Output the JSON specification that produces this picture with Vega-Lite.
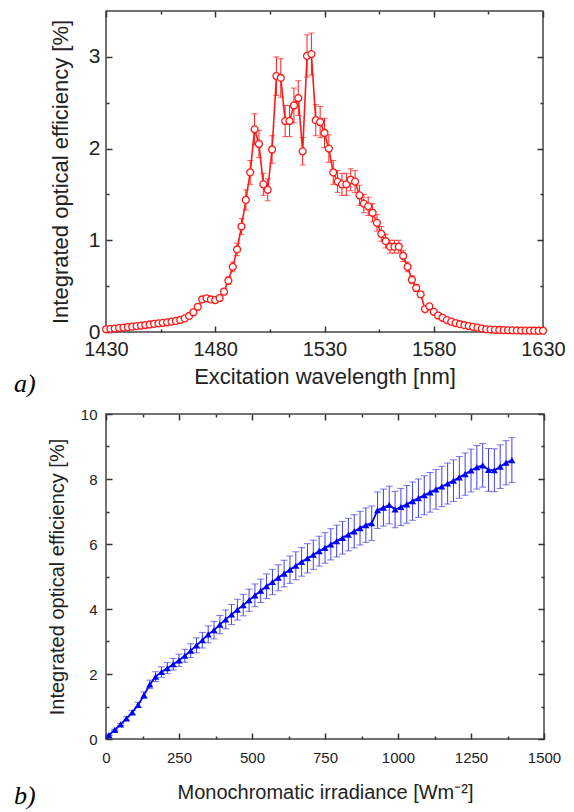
{
  "$schema": "https://vega.github.io/schema/vega-lite/v6.json",
  "padding": {"left": 13, "top": 9, "right": 0, "bottom": 0},
  "columns": 1,
  "spacing": 8,
  "config": {
    "font": "Liberation Sans",
    "view": {"stroke": "#444", "strokeWidth": 1.5},
    "axis": {
      "domain": false, "grid": false, "ticks": true, "tickColor": "#333", "tickWidth": 1.5, "tickOpacity": 1, "zindex": 1,
      "labelColor": "#222", "titleColor": "#222", "labelFont": "Liberation Sans",
      "titleFont": "Liberation Sans", "titleFontWeight": "normal",
      "labelFlush": false, "labelOverlap": false
    }
  },
  "datasets": {
    "spectrum": [
      {"wl":1430,"eff":0.030,"err":0.003},{"wl":1432,"eff":0.034,"err":0.003},{"wl":1434,"eff":0.038,"err":0.003},{"wl":1436,"eff":0.043,"err":0.003},{"wl":1438,"eff":0.048,"err":0.004},{"wl":1440,"eff":0.053,"err":0.004},{"wl":1442,"eff":0.058,"err":0.004},{"wl":1444,"eff":0.064,"err":0.005},{"wl":1446,"eff":0.070,"err":0.005},{"wl":1448,"eff":0.076,"err":0.006},{"wl":1450,"eff":0.082,"err":0.006},{"wl":1452,"eff":0.088,"err":0.007},{"wl":1454,"eff":0.094,"err":0.007},{"wl":1456,"eff":0.100,"err":0.008},{"wl":1458,"eff":0.106,"err":0.008},{"wl":1460,"eff":0.113,"err":0.009},{"wl":1462,"eff":0.121,"err":0.009},{"wl":1464,"eff":0.131,"err":0.010},{"wl":1466,"eff":0.148,"err":0.011},{"wl":1468,"eff":0.175,"err":0.013},{"wl":1470,"eff":0.215,"err":0.016},{"wl":1472,"eff":0.275,"err":0.021},{"wl":1474,"eff":0.355,"err":0.027},{"wl":1476,"eff":0.368,"err":0.028},{"wl":1478,"eff":0.355,"err":0.027},{"wl":1480,"eff":0.348,"err":0.026},{"wl":1482,"eff":0.370,"err":0.028},{"wl":1484,"eff":0.44,"err":0.033},{"wl":1486,"eff":0.56,"err":0.042},{"wl":1488,"eff":0.71,"err":0.053},{"wl":1490,"eff":0.90,"err":0.068},{"wl":1492,"eff":1.15,"err":0.086},{"wl":1494,"eff":1.44,"err":0.11},{"wl":1496,"eff":1.74,"err":0.13},{"wl":1498,"eff":2.21,"err":0.17},{"wl":1500,"eff":2.05,"err":0.15},{"wl":1502,"eff":1.61,"err":0.12},{"wl":1504,"eff":1.55,"err":0.12},{"wl":1506,"eff":1.99,"err":0.15},{"wl":1508,"eff":2.79,"err":0.21},{"wl":1510,"eff":2.77,"err":0.21},{"wl":1512,"eff":2.30,"err":0.17},{"wl":1514,"eff":2.30,"err":0.17},{"wl":1516,"eff":2.47,"err":0.19},{"wl":1518,"eff":2.55,"err":0.19},{"wl":1520,"eff":1.97,"err":0.15},{"wl":1522,"eff":3.01,"err":0.23},{"wl":1524,"eff":3.03,"err":0.23},{"wl":1526,"eff":2.31,"err":0.17},{"wl":1528,"eff":2.29,"err":0.17},{"wl":1530,"eff":2.17,"err":0.16},{"wl":1532,"eff":2.00,"err":0.15},{"wl":1534,"eff":1.74,"err":0.13},{"wl":1536,"eff":1.64,"err":0.12},{"wl":1538,"eff":1.61,"err":0.12},{"wl":1540,"eff":1.61,"err":0.12},{"wl":1542,"eff":1.66,"err":0.12},{"wl":1544,"eff":1.64,"err":0.12},{"wl":1546,"eff":1.49,"err":0.11},{"wl":1548,"eff":1.40,"err":0.10},{"wl":1550,"eff":1.37,"err":0.10},{"wl":1552,"eff":1.30,"err":0.10},{"wl":1554,"eff":1.19,"err":0.09},{"wl":1556,"eff":1.07,"err":0.08},{"wl":1558,"eff":0.99,"err":0.074},{"wl":1560,"eff":0.93,"err":0.07},{"wl":1562,"eff":0.93,"err":0.07},{"wl":1564,"eff":0.93,"err":0.07},{"wl":1566,"eff":0.83,"err":0.062},{"wl":1568,"eff":0.71,"err":0.053},{"wl":1570,"eff":0.57,"err":0.043},{"wl":1572,"eff":0.48,"err":0.036},{"wl":1574,"eff":0.41,"err":0.031},{"wl":1576,"eff":0.25,"err":0.019},{"wl":1578,"eff":0.28,"err":0.021},{"wl":1580,"eff":0.22,"err":0.016},{"wl":1582,"eff":0.18,"err":0.014},{"wl":1584,"eff":0.155,"err":0.012},{"wl":1586,"eff":0.13,"err":0.010},{"wl":1588,"eff":0.113,"err":0.008},{"wl":1590,"eff":0.098,"err":0.007},{"wl":1592,"eff":0.085,"err":0.006},{"wl":1594,"eff":0.074,"err":0.006},{"wl":1596,"eff":0.065,"err":0.005},{"wl":1598,"eff":0.056,"err":0.004},{"wl":1600,"eff":0.047,"err":0.004},{"wl":1602,"eff":0.037,"err":0.003},{"wl":1604,"eff":0.030,"err":0.002},{"wl":1606,"eff":0.027,"err":0.002},{"wl":1608,"eff":0.024,"err":0.002},{"wl":1610,"eff":0.022,"err":0.002},{"wl":1612,"eff":0.020,"err":0.002},{"wl":1614,"eff":0.019,"err":0.001},{"wl":1616,"eff":0.018,"err":0.001},{"wl":1618,"eff":0.017,"err":0.001},{"wl":1620,"eff":0.016,"err":0.001},{"wl":1622,"eff":0.015,"err":0.001},{"wl":1624,"eff":0.015,"err":0.001},{"wl":1626,"eff":0.014,"err":0.001},{"wl":1628,"eff":0.014,"err":0.001},{"wl":1630,"eff":0.014,"err":0.001}
    ],
    "irradiance": [
      {"irr":10,"eff":0.12,"err":0.01},{"irr":30,"eff":0.28,"err":0.02},{"irr":50,"eff":0.45,"err":0.03},{"irr":70,"eff":0.63,"err":0.05},{"irr":90,"eff":0.82,"err":0.06},{"irr":110,"eff":1.05,"err":0.08},{"irr":130,"eff":1.35,"err":0.10},{"irr":150,"eff":1.68,"err":0.13},{"irr":170,"eff":1.92,"err":0.15},{"irr":190,"eff":2.06,"err":0.16},{"irr":210,"eff":2.18,"err":0.17},{"irr":230,"eff":2.30,"err":0.18},{"irr":250,"eff":2.42,"err":0.19},{"irr":270,"eff":2.56,"err":0.20},{"irr":290,"eff":2.72,"err":0.21},{"irr":310,"eff":2.88,"err":0.23},{"irr":330,"eff":3.04,"err":0.24},{"irr":350,"eff":3.22,"err":0.26},{"irr":370,"eff":3.35,"err":0.27},{"irr":390,"eff":3.52,"err":0.28},{"irr":410,"eff":3.68,"err":0.29},{"irr":430,"eff":3.83,"err":0.31},{"irr":450,"eff":3.98,"err":0.32},{"irr":470,"eff":4.12,"err":0.33},{"irr":490,"eff":4.27,"err":0.34},{"irr":510,"eff":4.42,"err":0.35},{"irr":530,"eff":4.56,"err":0.36},{"irr":550,"eff":4.70,"err":0.38},{"irr":570,"eff":4.83,"err":0.39},{"irr":590,"eff":4.96,"err":0.40},{"irr":610,"eff":5.09,"err":0.41},{"irr":630,"eff":5.21,"err":0.42},{"irr":650,"eff":5.33,"err":0.43},{"irr":670,"eff":5.45,"err":0.44},{"irr":690,"eff":5.56,"err":0.45},{"irr":710,"eff":5.67,"err":0.45},{"irr":730,"eff":5.78,"err":0.46},{"irr":750,"eff":5.88,"err":0.47},{"irr":770,"eff":5.99,"err":0.48},{"irr":790,"eff":6.09,"err":0.49},{"irr":810,"eff":6.19,"err":0.50},{"irr":830,"eff":6.29,"err":0.50},{"irr":850,"eff":6.39,"err":0.51},{"irr":870,"eff":6.49,"err":0.52},{"irr":890,"eff":6.58,"err":0.53},{"irr":910,"eff":6.64,"err":0.53},{"irr":930,"eff":7.04,"err":0.56},{"irr":950,"eff":7.12,"err":0.57},{"irr":970,"eff":7.20,"err":0.58},{"irr":990,"eff":7.06,"err":0.56},{"irr":1010,"eff":7.14,"err":0.57},{"irr":1030,"eff":7.22,"err":0.58},{"irr":1050,"eff":7.32,"err":0.59},{"irr":1070,"eff":7.41,"err":0.59},{"irr":1090,"eff":7.50,"err":0.60},{"irr":1110,"eff":7.59,"err":0.61},{"irr":1130,"eff":7.68,"err":0.61},{"irr":1150,"eff":7.77,"err":0.62},{"irr":1170,"eff":7.86,"err":0.63},{"irr":1190,"eff":7.95,"err":0.64},{"irr":1210,"eff":8.05,"err":0.64},{"irr":1230,"eff":8.15,"err":0.65},{"irr":1250,"eff":8.26,"err":0.66},{"irr":1270,"eff":8.36,"err":0.67},{"irr":1290,"eff":8.42,"err":0.67},{"irr":1310,"eff":8.28,"err":0.66},{"irr":1330,"eff":8.27,"err":0.66},{"irr":1350,"eff":8.38,"err":0.67},{"irr":1370,"eff":8.50,"err":0.68},{"irr":1390,"eff":8.58,"err":0.69}
    ]
  },
  "concat": [
    {
      "width": 437,
      "height": 321,
      "data": {"name": "spectrum"},
      "title": {"text": "a)", "orient": "bottom", "anchor": "start", "frame": "group", "baseline": "alphabetic", "offset": 4, "dx": -92, "font": "Liberation Serif", "fontSize": 26, "fontStyle": "italic", "fontWeight": "normal", "color": "#000"},
      "resolve": {"axis": {"x": "independent", "y": "independent"}},
      "layer": [
        {
          "mark": {"type": "errorbar", "color": "#ff1a1a", "thickness": 1, "ticks": {"size": 6, "color": "#ff1a1a", "thickness": 1}},
          "encoding": {
            "x": {"field": "wl", "type": "quantitative", "scale": {"domain": [1430, 1630], "nice": false, "zero": false}, "axis": null},
            "y": {"field": "eff", "type": "quantitative", "scale": {"domain": [0, 3.5], "nice": false, "zero": false}, "axis": null},
            "yError": {"field": "err"}
          }
        },
        {
          "mark": {"type": "point", "opacity": 0},
          "encoding": {
            "x": {"field": "wl", "type": "quantitative", "axis": {"orient": "bottom", "values": [1455,1505,1555,1605], "labels": false, "title": null, "offset": -3, "tickSize": 3}},
            "y": {"field": "eff", "type": "quantitative", "axis": {"orient": "left", "values": [0.5,1.5,2.5], "labels": false, "title": null, "offset": -3, "tickSize": 3}}
          }
        },
        {
          "mark": {"type": "point", "opacity": 0},
          "encoding": {
            "x": {"field": "wl", "type": "quantitative", "axis": {"orient": "top", "values": [1455,1505,1555,1605], "labels": false, "title": null, "offset": -3, "tickSize": 3}},
            "y": {"field": "eff", "type": "quantitative", "axis": {"orient": "right", "values": [0.5,1.5,2.5], "labels": false, "title": null, "offset": -3, "tickSize": 3}}
          }
        },
        {
          "mark": {"type": "line", "color": "#ff1a1a", "strokeWidth": 1.6},
          "encoding": {
            "x": {"field": "wl", "type": "quantitative", "axis": {"orient": "bottom", "values": [1430,1480,1530,1580,1630], "format": "d", "offset": -6, "tickSize": 6, "labelFontSize": 20, "labelPadding": 7.5, "title": "Excitation wavelength [nm]", "titleFontSize": 22, "titlePadding": 7}},
            "y": {"field": "eff", "type": "quantitative", "axis": {"orient": "left", "values": [0,1,2,3], "format": "d", "offset": -6, "tickSize": 6, "labelFontSize": 21, "labelPadding": 6, "title": "Integrated optical efficiency [%]", "titleFontSize": 22, "titlePadding": 16}}
          }
        },
        {
          "mark": {"type": "point", "shape": "circle", "filled": true, "fill": "#ffffff", "stroke": "#ff1a1a", "strokeWidth": 1.3, "size": 48, "opacity": 1},
          "encoding": {
            "x": {"field": "wl", "type": "quantitative", "axis": {"orient": "top", "values": [1430,1480,1530,1580,1630], "labels": false, "title": null, "offset": -6, "tickSize": 6}},
            "y": {"field": "eff", "type": "quantitative", "axis": {"orient": "right", "values": [0,1,2,3], "labels": false, "title": null, "offset": -6, "tickSize": 6}}
          }
        }
      ]
    },
    {
      "width": 438,
      "height": 325,
      "data": {"name": "irradiance"},
      "title": {"text": "b)", "orient": "bottom", "anchor": "start", "frame": "group", "baseline": "alphabetic", "offset": 2, "dx": -92, "font": "Liberation Serif", "fontSize": 26, "fontStyle": "italic", "fontWeight": "normal", "color": "#000"},
      "resolve": {"axis": {"x": "independent", "y": "independent"}},
      "layer": [
        {
          "mark": {"type": "errorbar", "color": "#3f3fe0", "thickness": 1, "ticks": {"size": 7, "color": "#3f3fe0", "thickness": 1}},
          "encoding": {
            "x": {"field": "irr", "type": "quantitative", "scale": {"domain": [0, 1500], "nice": false, "zero": false}, "axis": null},
            "y": {"field": "eff", "type": "quantitative", "scale": {"domain": [0, 10], "nice": false, "zero": false}, "axis": null},
            "yError": {"field": "err"}
          }
        },
        {
          "mark": {"type": "point", "opacity": 0},
          "encoding": {
            "x": {"field": "irr", "type": "quantitative", "axis": {"orient": "bottom", "values": [125,375,625,875,1125,1375], "labels": false, "title": null, "offset": -3, "tickSize": 3}},
            "y": {"field": "eff", "type": "quantitative", "axis": {"orient": "left", "values": [1,3,5,7,9], "labels": false, "title": null, "offset": -3, "tickSize": 3}}
          }
        },
        {
          "mark": {"type": "point", "opacity": 0},
          "encoding": {
            "x": {"field": "irr", "type": "quantitative", "axis": {"orient": "top", "values": [125,375,625,875,1125,1375], "labels": false, "title": null, "offset": -3, "tickSize": 3}},
            "y": {"field": "eff", "type": "quantitative", "axis": {"orient": "right", "values": [1,3,5,7,9], "labels": false, "title": null, "offset": -3, "tickSize": 3}}
          }
        },
        {
          "mark": {"type": "line", "color": "#0000ff", "strokeWidth": 1.8},
          "encoding": {
            "x": {"field": "irr", "type": "quantitative", "axis": {"orient": "bottom", "values": [0,250,500,750,1000,1250,1500], "format": "d", "offset": -6, "tickSize": 6, "labelFontSize": 15, "labelPadding": 11, "title": "Monochromatic irradiance [Wm⁻²]", "titleFontSize": 20, "titlePadding": 17}},
            "y": {"field": "eff", "type": "quantitative", "axis": {"orient": "left", "values": [0,2,4,6,8,10], "format": "d", "offset": -6, "tickSize": 6, "labelFontSize": 15, "labelPadding": 9, "title": "Integrated optical efficiency [%]", "titleFontSize": 20, "titlePadding": 13}}
          }
        },
        {
          "mark": {"type": "point", "shape": "triangle-up", "filled": true, "color": "#0000ff", "size": 50, "opacity": 1},
          "encoding": {
            "x": {"field": "irr", "type": "quantitative", "axis": {"orient": "top", "values": [0,250,500,750,1000,1250,1500], "labels": false, "title": null, "offset": -6, "tickSize": 6}},
            "y": {"field": "eff", "type": "quantitative", "axis": {"orient": "right", "values": [0,2,4,6,8,10], "labels": false, "title": null, "offset": -6, "tickSize": 6}}
          }
        }
      ]
    }
  ]
}
